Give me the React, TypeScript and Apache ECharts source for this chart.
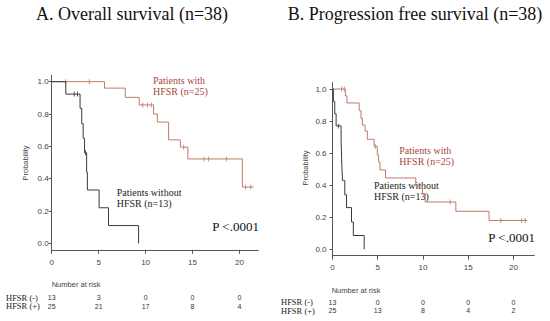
import React, { useEffect, useRef } from "react";
import * as echarts from "echarts";

// ---- Data ----
const xTicks = [0, 5, 10, 15, 20];
const yTicks = [0, 0.2, 0.4, 0.6, 0.8, 1.0];

// Overall survival (A)
const osWithSteps: number[][] = [
  [0, 1], [5.62, 0.96], [7.83, 0.903], [9.32, 0.856], [10.85, 0.8], [11.25, 0.75],
  [12.45, 0.64], [13.7, 0.595], [14.5, 0.522], [20.3, 0.348], [21.5, 0.348],
];
const osWithCensor: number[][] = [
  [1.5, 1], [4.0, 1], [9.7, 0.856], [10.2, 0.856], [10.6, 0.856], [14.05, 0.595],
  [16.2, 0.522], [16.7, 0.522], [18.6, 0.522], [20.64, 0.348], [21.2, 0.348],
];
const osWithoutSteps: number[][] = [
  [0, 1], [1.5, 0.923], [3.02, 0.835], [3.2, 0.74], [3.35, 0.65], [3.5, 0.56],
  [3.72, 0.44], [3.8, 0.33], [5.05, 0.22], [6.05, 0.11], [9.25, 0],
];
const osWithoutCensor: number[][] = [[2.4, 0.923], [2.75, 0.923], [3.6, 0.56]];

// Progression free survival (B)
const pfsWithSteps: number[][] = [
  [0, 1], [1.42, 0.957], [1.6, 0.913], [2.95, 0.865], [3.15, 0.817], [3.3, 0.775],
  [3.6, 0.738], [3.85, 0.686], [4.6, 0.642], [4.95, 0.588], [5.1, 0.545], [5.25, 0.495],
  [5.86, 0.445], [9.2, 0.395], [9.95, 0.345], [10.25, 0.295], [13.63, 0.237],
  [17.3, 0.18], [21.5, 0.18],
];
const pfsWithCensor: number[][] = [
  [1.0, 1], [1.3, 1], [4.72, 0.642], [13.0, 0.295], [18.6, 0.18], [20.9, 0.18], [21.3, 0.18],
];
const pfsWithoutSteps: number[][] = [
  [0, 1], [0.1, 0.923], [0.25, 0.846], [0.4, 0.77], [0.95, 0.68], [1.0, 0.58],
  [1.05, 0.5], [1.1, 0.43], [1.36, 0.34], [1.55, 0.26], [2.1, 0.17], [2.3, 0.086], [3.5, 0],
];
const pfsWithoutCensor: number[][] = [[0.65, 0.77]];

// Number at risk
const riskTimes = [0, 5, 10, 15, 20];
const osRiskNeg = [13, 3, 0, 0, 0];
const osRiskPos = [25, 21, 17, 8, 4];
const pfsRiskNeg = [13, 0, 0, 0, 0];
const pfsRiskPos = [25, 13, 8, 4, 2];

// ---- Styles ----
const RED_LINE = "#bf7a68";
const RED_TEXT = "#a9463a";
const BLACK_LINE = "#3a3a3a";
const AXIS = "#555";
const SERIF = "'Liberation Serif', 'DejaVu Serif', serif";
const SANS = "'Liberation Sans', Arial, sans-serif";

function txt(text: string, x: number, y: number, size: number, family: string, fill: string, align = "left", rotation = 0) {
  return {
    type: "text",
    x, y, rotation,
    silent: true,
    style: {
      text, fill, font: `${size}px ${family}`,
      align, verticalAlign: "middle", textAlign: align, textVerticalAlign: "middle",
    },
  };
}

export default function App() {
  const ref = useRef<HTMLDivElement>(null);
  useEffect(() => {
    document.body.style.margin = "0";
    const chart = echarts.init(ref.current!, undefined, { renderer: "svg" });

    const xAxisBase = (gridIndex: number, max: number, labelMargin: number) => ({
      type: "value", gridIndex, min: 0, max,
      axisLine: { show: true, onZero: false, lineStyle: { color: AXIS, width: 1 } },
      axisTick: { show: true, length: 4, customValues: xTicks, lineStyle: { color: AXIS } },
      axisLabel: { customValues: xTicks, fontSize: 8, color: "#444", fontFamily: SANS, margin: labelMargin },
      splitLine: { show: false },
    });
    const yAxisBase = (gridIndex: number, labelMargin: number) => ({
      type: "value", gridIndex, min: -0.04, max: 1.04,
      axisLine: { show: true, onZero: false, lineStyle: { color: AXIS, width: 1 } },
      axisTick: { show: true, length: 3, customValues: yTicks, lineStyle: { color: AXIS } },
      axisLabel: {
        customValues: yTicks, fontSize: 8, color: "#444", fontFamily: SANS, margin: labelMargin,
        formatter: (v: number) => v.toFixed(1),
      },
      splitLine: { show: false },
    });

    const stepSeries = (data: number[][], color: string, idx: number) => ({
      type: "line", step: "end", data, xAxisIndex: idx, yAxisIndex: idx,
      symbol: "none", lineStyle: { color, width: 1 }, silent: true,
    });
    const censorSeries = (data: number[][], color: string, idx: number) => ({
      type: "scatter", data, xAxisIndex: idx, yAxisIndex: idx,
      symbol: "rect", symbolSize: [1, 5], itemStyle: { color }, silent: true,
    });

    chart.setOption({
      animation: false,
      grid: [
        { left: 51.7, top: 75.2, width: 206.6, height: 174.6 },
        { left: 332.5, top: 82.6, width: 201.8, height: 173.1 },
      ],
      xAxis: [xAxisBase(0, 22, 9), xAxisBase(1, 22.3, 8)],
      yAxis: [yAxisBase(0, 3), yAxisBase(1, 6)],
      series: [
        stepSeries(osWithSteps, RED_LINE, 0),
        censorSeries(osWithCensor, RED_LINE, 0),
        stepSeries(osWithoutSteps, BLACK_LINE, 0),
        censorSeries(osWithoutCensor, BLACK_LINE, 0),
        stepSeries(pfsWithSteps, RED_LINE, 1),
        censorSeries(pfsWithCensor, RED_LINE, 1),
        stepSeries(pfsWithoutSteps, BLACK_LINE, 1),
        censorSeries(pfsWithoutCensor, BLACK_LINE, 1),
      ],
    });

    const riskTexts: any[] = [];
    const addRisk = (gridIndex: number, vals: number[], y: number) => {
      vals.forEach((v, i) => {
        const px = chart.convertToPixel({ gridIndex } as any, [riskTimes[i], 0]) as number[];
        riskTexts.push(txt(String(v), px[0], y, 7, SANS, "#333", "center"));
      });
    };
    addRisk(0, osRiskNeg, 297.5);
    addRisk(0, osRiskPos, 306);
    addRisk(1, pfsRiskNeg, 302);
    addRisk(1, pfsRiskPos, 310.5);

    chart.setOption({
      graphic: [
        txt("A. Overall survival (n=38)", 36, 13.5, 18, SERIF, "#111"),
        txt("B. Progression free survival (n=38)", 287.7, 14, 18, SERIF, "#111"),
        txt("Probability", 25, 163, 7.5, SANS, "#444", "center", Math.PI / 2),
        txt("Probability", 305.7, 168, 7.5, SANS, "#444", "center", Math.PI / 2),
        txt("Patients with", 153, 80, 10, SERIF, RED_TEXT),
        txt("HFSR (n=25)", 153, 91.5, 10, SERIF, RED_TEXT),
        txt("Patients without", 116.7, 192.7, 10, SERIF, "#222"),
        txt("HFSR (n=13)", 116.7, 203.3, 10, SERIF, "#222"),
        txt("P <.0001", 212.3, 226.7, 13, SERIF, "#111"),
        txt("Patients with", 399.3, 150, 10, SERIF, RED_TEXT),
        txt("HFSR (n=25)", 399.3, 161.7, 10, SERIF, RED_TEXT),
        txt("Patients without", 374, 185.3, 10, SERIF, "#222"),
        txt("HFSR (n=13)", 374, 196.7, 10, SERIF, "#222"),
        txt("P <.0001", 488.3, 237.3, 13, SERIF, "#111"),
        txt("Number at risk", 51.7, 284.3, 7.5, SANS, "#444"),
        txt("Number at risk", 331.7, 290, 7.5, SANS, "#444"),
        txt("HFSR (-)", 6, 297.5, 8.5, SERIF, "#222"),
        txt("HFSR (+)", 6, 306, 8.5, SERIF, "#222"),
        txt("HFSR (-)", 281, 302, 8.5, SERIF, "#222"),
        txt("HFSR (+)", 281, 310.5, 8.5, SERIF, "#222"),
        ...riskTexts,
      ],
    });

    return () => chart.dispose();
  }, []);
  return <div ref={ref} style={{ width: 550, height: 321 }} />;
}
